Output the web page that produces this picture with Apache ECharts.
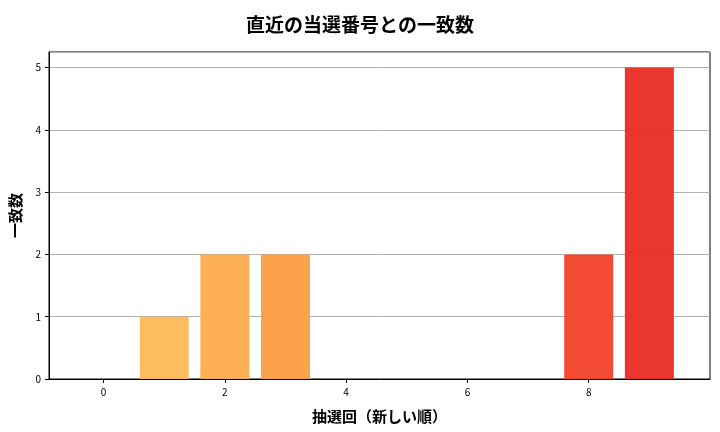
<!DOCTYPE html>
<html>
<head>
<meta charset="utf-8">
<script src="https://cdn.jsdelivr.net/npm/echarts@6/dist/echarts.min.js"></script>
<style>html,body{margin:0;padding:0;background:#fff}#chart{width:720px;height:432px}</style>
</head>
<body>
<div id="chart"></div>
<script>
// 抽選回（新しい順）と一致数
const drawIndex = [0, 1, 2, 3, 4, 5, 6, 7, 8, 9];
const matchCounts = [0, 1, 2, 2, 0, 0, 0, 0, 2, 5];
const barColors = ['#FEC865', '#FDBA58', '#FDAD4E', '#FB9E44', '#F98B3C', '#F77935', '#F66631', '#F5552E', '#F3432B', '#E82E25'];
const xTicks = [0, 2, 4, 6, 8];

const font = '"Noto Sans CJK JP", sans-serif';
const chart = echarts.init(document.getElementById('chart'));

const option = {
  animation: false,
  title: {
    text: '直近の当選番号との一致数',
    left: 'center', top: 10,
    textStyle: { fontFamily: font, fontSize: 19, fontWeight: 'bold', color: '#000' }
  },
  grid: {
    left: 48, right: 10, top: 52, bottom: 53,
    show: true, borderColor: '#000', borderWidth: 1
  },
  xAxis: {
    type: 'value', min: -0.9, max: 10.0,
    name: '抽選回（新しい順）', nameLocation: 'center', nameGap: 30,
    nameTextStyle: { fontFamily: font, fontSize: 15, fontWeight: 'bold', color: '#000' },
    axisLine: { onZero: false, lineStyle: { color: '#000' } },
    axisLabel: {
      fontFamily: font, fontSize: 10, color: '#000',
      customValues: xTicks, formatter: v => String(v)
    },
    axisTick: { show: true, customValues: xTicks, length: 4, lineStyle: { color: '#000' } },
    splitLine: { show: false }
  },
  yAxis: {
    type: 'value', min: 0, max: 5.25, interval: 1,
    name: '一致数', nameLocation: 'center', nameGap: 26,
    nameTextStyle: { fontFamily: font, fontSize: 15, fontWeight: 'bold', color: '#000' },
    axisLine: { show: true, onZero: false, lineStyle: { color: '#000' } },
    axisTick: { show: true, length: 4, lineStyle: { color: '#000' } },
    axisLabel: { fontFamily: font, fontSize: 10, color: '#000', showMaxLabel: false },
    splitLine: { show: true, lineStyle: { color: '#b0b0b0', width: 1 } }
  },
  series: [{
    type: 'bar',
    barWidth: 49,
    data: drawIndex.map((x, i) => ({
      value: [x, matchCounts[i]],
      itemStyle: { color: barColors[i], opacity: 0.96 }
    }))
  }]
};

chart.setOption(option);
</script>
</body>
</html>
